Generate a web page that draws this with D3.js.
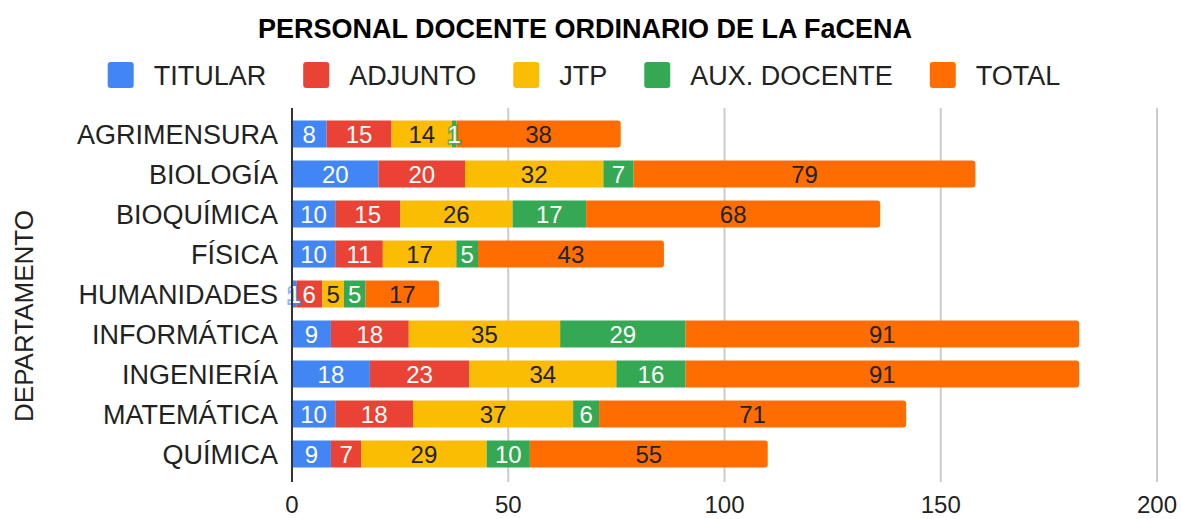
<!DOCTYPE html>
<html>
<head>
<meta charset="utf-8">
<script src="https://cdn.jsdelivr.net/npm/d3@7"></script>
<style>
  body { margin: 0; background: #fff; }
  svg text { font-family: "Liberation Sans", Arial, sans-serif; }
</style>
</head>
<body>
<div id="chart"></div>
<script>
// données
const departamentos = ["AGRIMENSURA", "BIOLOGÍA", "BIOQUÍMICA", "FÍSICA", "HUMANIDADES",
  "INFORMÁTICA", "INGENIERÍA", "MATEMÁTICA", "QUÍMICA"];
const series = ["TITULAR", "ADJUNTO", "JTP", "AUX. DOCENTE", "TOTAL"];
const titular = [8, 20, 10, 10, 1, 9, 18, 10, 9];
const adjunto = [15, 20, 15, 11, 6, 18, 23, 18, 7];
const jtp = [14, 32, 26, 17, 5, 35, 34, 37, 29];
const auxDocente = [1, 7, 17, 5, 5, 29, 16, 6, 10];
const total = [38, 79, 68, 43, 17, 91, 91, 71, 55];
const xTicks = [0, 50, 100, 150, 200];

const colors = ["#4285F4", "#EA4335", "#FBBC04", "#34A853", "#FF6D01"];
const labelColors = ["#fff", "#fff", "#222", "#fff", "#222"];

const W = 1182, H = 519;
const svg = d3.select("#chart").append("svg")
  .attr("width", W).attr("height", H);

const x = d3.scaleLinear().domain([0, 200]).range([292, 1157]);
const y = d3.scaleBand().domain(departamentos).range([114, 474])
  .paddingInner(0.325).paddingOuter(0.1625);

// tableau pour d3.stack
const table = departamentos.map((d, i) => ({
  dep: d,
  "TITULAR": titular[i], "ADJUNTO": adjunto[i], "JTP": jtp[i],
  "AUX. DOCENTE": auxDocente[i], "TOTAL": total[i]
}));
const stacked = d3.stack().keys(series)(table);

// grille
svg.append("g").selectAll("line")
  .data(xTicks.filter(t => t > 0))
  .join("line")
  .attr("x1", d => x(d)).attr("x2", d => x(d))
  .attr("y1", 108).attr("y2", 482)
  .attr("stroke", "#ccc").attr("stroke-width", 2);

// titre
svg.append("text")
  .attr("x", 585).attr("y", 38)
  .attr("text-anchor", "middle")
  .attr("font-size", 27).attr("font-weight", "bold").attr("fill", "#000")
  .text("PERSONAL DOCENTE ORDINARIO DE LA FaCENA");

// légende
const legend = svg.append("g");
let lx = 0;
series.forEach((s, i) => {
  const g = legend.append("g").attr("transform", `translate(${lx},0)`);
  g.append("rect").attr("x", 0).attr("y", 62).attr("width", 26).attr("height", 26)
    .attr("rx", 3).attr("fill", colors[i]);
  const t = g.append("text").attr("x", 46).attr("y", 85)
    .attr("font-size", 27).attr("fill", "#222").text(s);
  lx += 46 + t.node().getComputedTextLength() + 37;
});
const legendWidth = lx - 37;
legend.attr("transform", `translate(${584 - legendWidth / 2},0)`);

// barres
function segPath(x0, x1, y0, h, last) {
  const r = last ? Math.min(3, (x1 - x0) / 2) : 0;
  return `M${x0},${y0}H${x1 - r}` +
    (r ? `Q${x1},${y0} ${x1},${y0 + r}V${y0 + h - r}Q${x1},${y0 + h} ${x1 - r},${y0 + h}` : `V${y0 + h}`) +
    `H${x0}Z`;
}

stacked.forEach((layer, k) => {
  svg.append("g").selectAll("path")
    .data(layer)
    .join("path")
    .attr("d", d => segPath(x(d[0]), x(d[1]), y(d.data.dep), y.bandwidth(), k === series.length - 1))
    .attr("fill", colors[k]);
});

// étiquettes des segments
stacked.forEach((layer, k) => {
  svg.append("g").selectAll("text")
    .data(layer)
    .join("text")
    .attr("x", d => (x(d[0]) + x(d[1])) / 2)
    .attr("y", d => y(d.data.dep) + y.bandwidth() / 2 + 8.5)
    .attr("text-anchor", "middle")
    .attr("font-size", 24)
    .attr("fill", labelColors[k])
    .attr("stroke", colors[k]).attr("stroke-opacity", 0.6).attr("stroke-width", 4)
    .attr("paint-order", "stroke")
    .text(d => d[1] - d[0]);
});

// axe vertical
svg.append("line")
  .attr("x1", x(0)).attr("x2", x(0)).attr("y1", 108).attr("y2", 482)
  .attr("stroke", "#333").attr("stroke-width", 2);

svg.append("g").selectAll("text")
  .data(departamentos)
  .join("text")
  .attr("x", 278)
  .attr("y", d => y(d) + y.bandwidth() / 2 + 9.5)
  .attr("text-anchor", "end")
  .attr("font-size", 27).attr("fill", "#222")
  .text(d => d);

// ticks axe x
svg.append("g").selectAll("text")
  .data(xTicks)
  .join("text")
  .attr("x", d => x(d)).attr("y", 513)
  .attr("text-anchor", "middle")
  .attr("font-size", 24).attr("fill", "#222")
  .text(d => d);

// titre axe vertical
svg.append("text")
  .attr("transform", "translate(33,316) rotate(-90)")
  .attr("text-anchor", "middle")
  .attr("font-size", 26).attr("fill", "#222")
  .text("DEPARTAMENTO");
</script>
</body>
</html>
